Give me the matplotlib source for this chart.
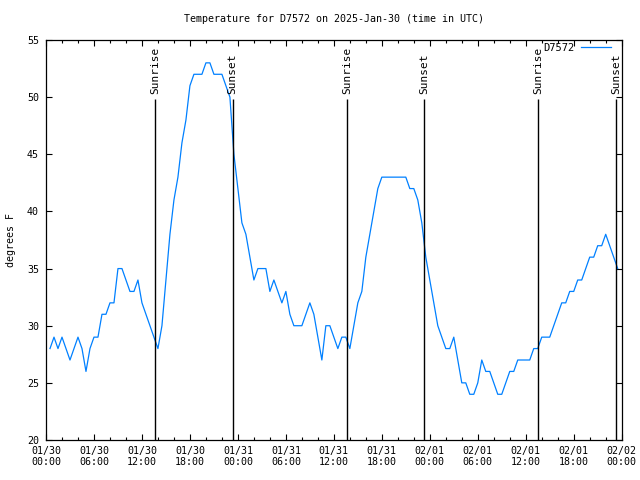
import matplotlib
matplotlib.use('Agg')
import matplotlib.pyplot as plt
import matplotlib.dates as mdates
import pandas as pd

# Lecturas cada 30 min desde 01/30 00:30 UTC
temps = [28, 29, 28, 29, 28, 27, 28, 29, 28, 26, 28, 29, 29, 31, 31, 32, 32, 35, 35, 34,
         33, 33, 34, 32, 31, 30, 29, 28, 30, 34, 38, 41, 43, 46, 48, 51, 52, 52, 52, 53,
         53, 52, 52, 52, 51, 50, 45, 42, 39, 38, 36, 34, 35, 35, 35, 33, 34, 33, 32, 33,
         31, 30, 30, 30, 31, 32, 31, 29, 27, 30, 30, 29, 28, 29, 29, 28, 30, 32, 33, 36,
         38, 40, 42, 43, 43, 43, 43, 43, 43, 43, 42, 42, 41, 39, 36, 34, 32, 30, 29, 28,
         28, 29, 27, 25, 25, 24, 24, 25, 27, 26, 26, 25, 24, 24, 25, 26, 26, 27, 27, 27,
         27, 28, 28, 29, 29, 29, 30, 31, 32, 32, 33, 33, 34, 34, 35, 36, 36, 37, 37, 38,
         37, 36, 35]
times = pd.date_range('2025-01-30 00:30', periods=len(temps), freq='30min')

sunrise = ['2025-01-30 13:37', '2025-01-31 13:38', '2025-02-01 13:35']
sunset = ['2025-01-30 23:20', '2025-01-31 23:19', '2025-02-01 23:18']

station = 'D7572'
title = 'Temperature for D7572 on 2025-Jan-30 (time in UTC)'

plt.rcParams['font.family'] = ['DejaVu Sans Mono']

fig = plt.figure(figsize=(6.4, 4.8), dpi=100)
ax = fig.add_axes([46 / 640, 40 / 480, (621.7 - 46) / 640, 400 / 480])

ax.plot(times, temps, color='#0080ff', lw=0.9, label=station)

# Lineas de amanecer / atardecer
for lbl, lst in (('Sunrise', sunrise), ('Sunset', sunset)):
  for s in lst:
    t = pd.Timestamp(s)
    ax.vlines(t, 20, 49.8, color='black', lw=1)
    ax.text(t, 50.3, lbl, rotation=90, ha='center', va='bottom', fontsize=8)

ax.set_xlim(pd.Timestamp('2025-01-30 00:00'), pd.Timestamp('2025-02-02 00:00'))
ax.set_ylim(20, 55)
ax.set_yticks(range(20, 56, 5))

ax.xaxis.set_major_locator(mdates.HourLocator(byhour=range(0, 24, 6)))
ax.xaxis.set_minor_locator(mdates.HourLocator(byhour=range(0, 24, 2)))
ax.xaxis.set_major_formatter(mdates.DateFormatter('%m/%d\n%H:%M'))

ax.tick_params(which='both', direction='in', top=True, right=True, labelsize=7.2, width=0.8)
ax.tick_params(which='major', length=4)
ax.tick_params(which='minor', length=2.5)
ax.tick_params(axis='y', pad=5)
ax.tick_params(axis='x', pad=4)
for sp in ax.spines.values():
  sp.set_linewidth(0.9)

ax.set_ylabel('degrees F', fontsize=7.2, labelpad=8)
fig.text((46 + 621.7) / 2 / 640, 1 - 19 / 480, title, ha='center', va='center', fontsize=7.2)

ax.legend(loc='upper right', bbox_to_anchor=(0.989, 1.003), markerfirst=False, frameon=False,
          fontsize=7.5, handlelength=2.9, borderaxespad=0, handletextpad=0.6)

fig.savefig('out.png', dpi=100)
